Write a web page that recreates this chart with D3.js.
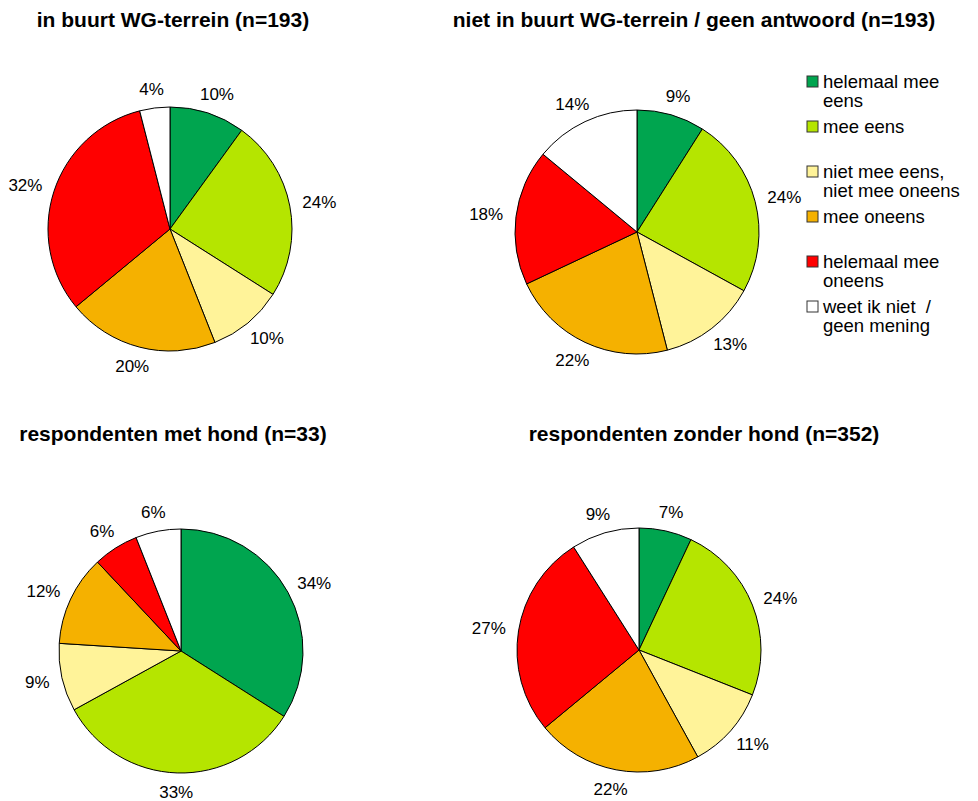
<!DOCTYPE html>
<html>
<head>
<meta charset="utf-8">
<script src="https://cdn.jsdelivr.net/npm/d3@7"></script>
<style>
  body { margin: 0; background: #fff; }
  svg { display: block; }
  text { font-family: "Liberation Sans", Arial, Helvetica, sans-serif; fill: #000; }
</style>
</head>
<body>
<div class="container"></div>
<script>
const categories = [
  "helemaal mee eens",
  "mee eens",
  "niet mee eens, niet mee oneens",
  "mee oneens",
  "helemaal mee oneens",
  "weet ik niet / geen mening"
];
const legendLines = [
  ["helemaal mee", "eens"],
  ["mee eens"],
  ["niet mee eens,", "niet mee oneens"],
  ["mee oneens"],
  ["helemaal mee", "oneens"],
  ["weet ik niet  /", "geen mening"]
];
const colors = ["#00A54F", "#B5E500", "#FFF399", "#F5B100", "#FF0000", "#FFFFFF"];

const titles = [
  "in buurt WG-terrein (n=193)",
  "niet in buurt WG-terrein / geen antwoord (n=193)",
  "respondenten met hond (n=33)",
  "respondenten zonder hond (n=352)"
];
const inBuurt = [10, 24, 10, 20, 32, 4];
const nietInBuurt = [9, 24, 13, 22, 18, 14];
const metHond = [34, 33, 9, 12, 6, 6];
const zonderHond = [7, 24, 11, 22, 27, 9];
const series = [inBuurt, nietInBuurt, metHond, zonderHond];

const width = 978;
const height = 801;
const radius = 122;
const labelRadius = 135;

// panel layout: pie centre and title centre
const panels = [
  { cx: 170, cy: 229, tx: 173, ty: 27 },
  { cx: 637, cy: 232, tx: 694, ty: 27 },
  { cx: 181, cy: 651, tx: 173, ty: 441 },
  { cx: 639, cy: 650, tx: 704, ty: 441 }
];

const svg = d3.select(".container")
  .append("svg")
  .attr("xmlns", "http://www.w3.org/2000/svg")
  .attr("width", width)
  .attr("height", height)
  .attr("viewBox", `0 0 ${width} ${height}`);

svg.append("rect")
  .attr("width", width)
  .attr("height", height)
  .attr("fill", "#fff");

const pie = d3.pie().sort(null).value(d => d);
const arc = d3.arc().innerRadius(0).outerRadius(radius);

series.forEach((values, i) => {
  const p = panels[i];

  // title
  svg.append("text")
    .attr("x", p.tx)
    .attr("y", p.ty)
    .attr("text-anchor", "middle")
    .style("font-size", "21px")
    .style("font-weight", "bold")
    .text(titles[i]);

  const g = svg.append("g").attr("transform", `translate(${p.cx},${p.cy})`);
  const arcs = pie(values);

  g.selectAll("path")
    .data(arcs)
    .join("path")
    .attr("d", arc)
    .attr("fill", (d, j) => colors[j])
    .attr("stroke", "#000")
    .attr("stroke-width", 1)
    .attr("stroke-linejoin", "round");

  // labels: push the text box out along the slice's mid angle
  g.selectAll("text")
    .data(arcs)
    .join("text")
    .attr("text-anchor", "middle")
    .attr("dy", "0.35em")
    .style("font-size", "17px")
    .text(d => d.value + "%")
    .attr("transform", function (d) {
      const a = (d.startAngle + d.endAngle) / 2;
      const hw = this.getComputedTextLength() / 2;
      const hh = 6.5;
      const x = Math.sin(a) * (labelRadius + hw);
      const y = -Math.cos(a) * (labelRadius + hh);
      return `translate(${x},${y})`;
    });
});

// legend
const legend = svg.append("g").attr("transform", "translate(807,76)");
const item = legend.selectAll("g")
  .data(categories)
  .join("g")
  .attr("transform", (d, j) => `translate(0,${j * 45})`);

item.append("rect")
  .attr("width", 11)
  .attr("height", 11)
  .attr("fill", (d, j) => colors[j])
  .attr("stroke", "#333")
  .attr("stroke-width", 1);

item.each(function (d, j) {
  d3.select(this).selectAll("text")
    .data(legendLines[j])
    .join("text")
    .attr("x", 16)
    .attr("y", (t, k) => 12 + k * 19)
    .style("font-size", "18.5px")
    .style("white-space", "pre")
    .text(t => t);
});
</script>
</body>
</html>
